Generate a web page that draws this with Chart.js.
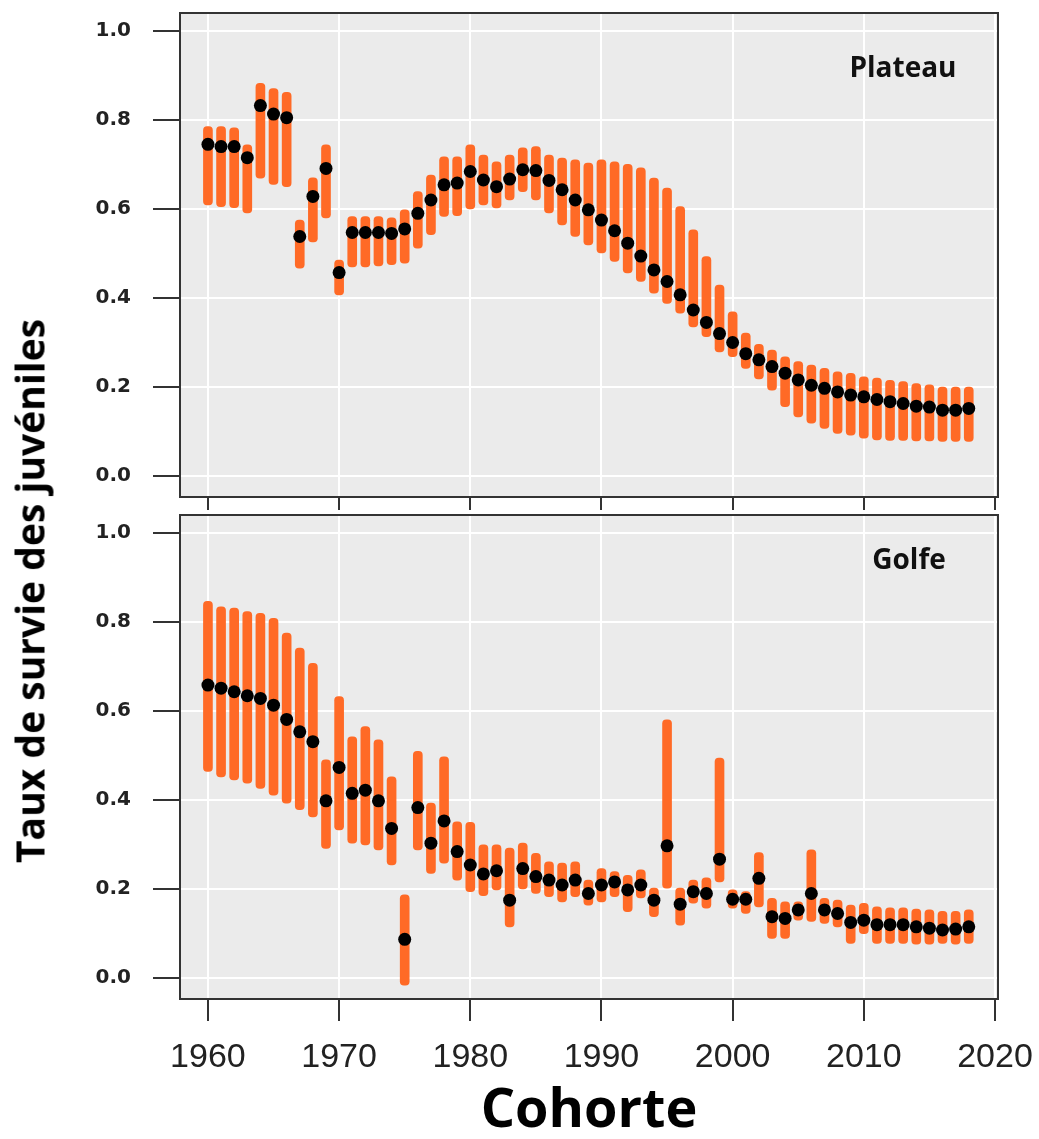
<!DOCTYPE html>
<html>
<head>
<meta charset="utf-8">
<title>Taux de survie des juvéniles</title>
<script src="https://cdn.jsdelivr.net/npm/chart.js@4.4.1/dist/chart.umd.min.js"></script>
<style>
  body { margin: 0; background: #fff; }
  #page { position: relative; width: 1039px; height: 1139px; overflow: hidden; }
  .box { position: absolute; left: 0; width: 1039px; }
  #topBox { top: 0; height: 520px; }
  #bottomBox { top: 500px; height: 639px; }
  .panelLabel {
    position: absolute;
    font: bold 28px "Open Sans", sans-serif;
    color: #111;
    transform: translate(-50%, -50%);
    white-space: nowrap;
  }
  #yLabel {
    position: absolute;
    left: 29px;
    top: 591px;
    font: bold 39px "Open Sans", sans-serif;
    color: #000;
    transform: translate(-50%, -50%) rotate(-90deg);
    white-space: nowrap;
  }
</style>
</head>
<body>
<div id="page">
  <div class="box" id="topBox"><canvas id="plateauChart"></canvas></div>
  <div class="box" id="bottomBox"><canvas id="golfeChart"></canvas></div>
  <div class="panelLabel" style="left:903px; top:66px;">Plateau</div>
  <div class="panelLabel" style="left:909px; top:558px;">Golfe</div>
  <div id="yLabel">Taux de survie des juvéniles</div>
</div>
<script>
// Cohortes
const years = [
  1960, 1961, 1962, 1963, 1964, 1965, 1966, 1967, 1968, 1969,
  1970, 1971, 1972, 1973, 1974, 1975, 1976, 1977, 1978, 1979,
  1980, 1981, 1982, 1983, 1984, 1985, 1986, 1987, 1988, 1989,
  1990, 1991, 1992, 1993, 1994, 1995, 1996, 1997, 1998, 1999,
  2000, 2001, 2002, 2003, 2004, 2005, 2006, 2007, 2008, 2009,
  2010, 2011, 2012, 2013, 2014, 2015, 2016, 2017, 2018
];

// Plateau
const plateauMean = [
  0.745, 0.740, 0.740, 0.715, 0.832, 0.813, 0.805, 0.538, 0.628, 0.691,
  0.457, 0.547, 0.547, 0.547, 0.545, 0.555, 0.590, 0.620, 0.654, 0.658,
  0.684, 0.665, 0.650, 0.667, 0.688, 0.686, 0.664, 0.643, 0.620, 0.598,
  0.575, 0.551, 0.523, 0.494, 0.463, 0.437, 0.407, 0.373, 0.345, 0.320,
  0.300, 0.275, 0.261, 0.246, 0.231, 0.216, 0.204, 0.197, 0.189, 0.182,
  0.178, 0.172, 0.167, 0.163, 0.157, 0.155, 0.148, 0.148, 0.152
];
const plateauLow = [
  0.609, 0.605, 0.603, 0.591, 0.669, 0.655, 0.650, 0.467, 0.526, 0.580,
  0.407, 0.470, 0.470, 0.472, 0.475, 0.478, 0.512, 0.542, 0.583, 0.585,
  0.600, 0.609, 0.602, 0.620, 0.639, 0.620, 0.591, 0.564, 0.538, 0.519,
  0.501, 0.482, 0.456, 0.437, 0.411, 0.388, 0.366, 0.335, 0.313, 0.279,
  0.268, 0.242, 0.218, 0.193, 0.156, 0.133, 0.119, 0.107, 0.096, 0.092,
  0.085, 0.081, 0.080, 0.080, 0.079, 0.079, 0.078, 0.078, 0.078
];
const plateauHigh = [
  0.785, 0.785, 0.782, 0.744, 0.882, 0.870, 0.862, 0.575, 0.670, 0.744,
  0.485, 0.583, 0.583, 0.583, 0.580, 0.598, 0.639, 0.676, 0.717, 0.717,
  0.744, 0.721, 0.706, 0.721, 0.737, 0.740, 0.721, 0.714, 0.710, 0.703,
  0.710, 0.706, 0.700, 0.692, 0.669, 0.647, 0.605, 0.553, 0.493, 0.429,
  0.369, 0.321, 0.296, 0.283, 0.268, 0.257, 0.249, 0.242, 0.234, 0.231,
  0.223, 0.220, 0.215, 0.212, 0.208, 0.205, 0.200, 0.200, 0.200
];

// Golfe
const golfeMean = [
  0.658, 0.651, 0.643, 0.634, 0.628, 0.613, 0.581, 0.553, 0.531, 0.398,
  0.473, 0.415, 0.422, 0.398, 0.336, 0.087, 0.383, 0.303, 0.353, 0.284,
  0.254, 0.234, 0.241, 0.175, 0.246, 0.228, 0.220, 0.209, 0.220, 0.190,
  0.209, 0.216, 0.198, 0.209, 0.175, 0.297, 0.166, 0.194, 0.190, 0.267,
  0.177, 0.177, 0.224, 0.138, 0.134, 0.153, 0.190, 0.153, 0.145, 0.125,
  0.130, 0.120, 0.120, 0.120, 0.115, 0.112, 0.108, 0.110, 0.115
];
const golfeLow = [
  0.464, 0.452, 0.445, 0.438, 0.426, 0.411, 0.393, 0.378, 0.362, 0.291,
  0.333, 0.303, 0.299, 0.288, 0.254, -0.016, 0.288, 0.235, 0.258, 0.220,
  0.194, 0.185, 0.198, 0.115, 0.200, 0.190, 0.183, 0.171, 0.183, 0.164,
  0.171, 0.183, 0.149, 0.180, 0.138, 0.202, 0.119, 0.168, 0.157, 0.216,
  0.157, 0.145, 0.160, 0.089, 0.089, 0.130, 0.127, 0.123, 0.115, 0.078,
  0.100, 0.078, 0.078, 0.078, 0.076, 0.076, 0.078, 0.076, 0.078
];
const golfeHigh = [
  0.846, 0.834, 0.831, 0.823, 0.819, 0.808, 0.775, 0.741, 0.707, 0.490,
  0.632, 0.542, 0.565, 0.535, 0.452, 0.187, 0.509, 0.393, 0.497, 0.351,
  0.350, 0.299, 0.299, 0.292, 0.303, 0.280, 0.261, 0.258, 0.261, 0.220,
  0.246, 0.239, 0.231, 0.243, 0.202, 0.580, 0.202, 0.220, 0.225, 0.494,
  0.198, 0.194, 0.282, 0.179, 0.171, 0.171, 0.288, 0.179, 0.175, 0.164,
  0.168, 0.160, 0.158, 0.158, 0.155, 0.153, 0.150, 0.150, 0.153
];

const yTickValues = [0, 0.2, 0.4, 0.6, 0.8, 1.0];
const xTickValues = [1960, 1970, 1980, 1990, 2000, 2010, 2020];

const barColor = '#FF6A26';
const frameColor = '#333333';

// grey panel background and the frame around it
const panelFrame = {
  id: 'panelFrame',
  beforeDraw(chart) {
    const { ctx, chartArea: a } = chart;
    ctx.save();
    ctx.fillStyle = '#EBEBEB';
    ctx.fillRect(a.left, a.top, a.right - a.left, a.bottom - a.top);
    ctx.restore();
  },
  afterDraw(chart) {
    const { ctx, chartArea: a } = chart;
    ctx.save();
    ctx.strokeStyle = frameColor;
    ctx.lineWidth = 2;
    ctx.strokeRect(a.left, a.top, a.right - a.left, a.bottom - a.top);
    ctx.restore();
  }
};

const makePanel = (canvasId, mean, low, high, isBottom) => {
  const ctx = document.getElementById(canvasId).getContext('2d');

  return new Chart(ctx, {
    type: 'bar',
    data: {
      datasets: [
        {
          type: 'scatter',
          data: years.map((yr, i) => ({ x: yr, y: mean[i] })),
          pointRadius: 6.5,
          pointHoverRadius: 6.5,
          backgroundColor: '#000',
          borderColor: '#000',
          borderWidth: 0,
          order: 0
        },
        {
          type: 'bar',
          data: years.map((yr, i) => ({ x: yr, y: [low[i], high[i]] })),
          backgroundColor: barColor,
          barThickness: 9,
          borderRadius: 4,
          borderSkipped: false,
          grouped: false,
          order: 1
        }
      ]
    },
    options: {
      responsive: true,
      maintainAspectRatio: false,
      animation: false,
      layout: { padding: { left: 0, right: 41, top: isBottom ? 15 : 13, bottom: 0 } },
      plugins: {
        legend: { display: false },
        tooltip: { enabled: false }
      },
      scales: {
        x: {
          type: 'linear',
          min: 1957.87,
          max: 2020.23,
          offset: false,
          afterBuildTicks: s => { s.ticks = xTickValues.map(v => ({ value: v })); },
          afterFit: s => {
            s.height = isBottom ? 140 : 23;
            s.paddingLeft = 0;
            s.paddingRight = 0;
          },
          grid: { offset: false, color: '#fff', lineWidth: 2, tickLength: isBottom ? 22 : 13, tickColor: frameColor, tickWidth: 2 },
          border: { display: false },
          ticks: {
            display: isBottom,
            padding: 16,
            maxRotation: 0,
            autoSkip: false,
            color: '#222',
            font: { family: 'Liberation Sans', size: 34 },
            callback: v => String(v)
          },
          title: {
            display: isBottom,
            text: 'Cohorte',
            color: '#000',
            font: { family: 'Open Sans', weight: 'bold', size: 54, lineHeight: 1 },
            padding: { top: 0, bottom: 0 }
          }
        },
        y: {
          min: -0.047,
          max: 1.04,
          afterBuildTicks: s => { s.ticks = yTickValues.map(v => ({ value: v })); },
          afterFit: s => {
            s.width = 180;
            s.paddingTop = 0;
            s.paddingBottom = 0;
          },
          grid: { color: '#fff', lineWidth: 2, tickLength: 27, tickColor: frameColor, tickWidth: 2 },
          border: { display: false },
          ticks: {
            padding: 22,
            color: '#222',
            font: { family: 'DejaVu Sans', weight: 'bold', size: 20 },
            callback: v => v.toFixed(1)
          }
        }
      }
    },
    plugins: [panelFrame]
  });
};

makePanel('plateauChart', plateauMean, plateauLow, plateauHigh, false);
makePanel('golfeChart', golfeMean, golfeLow, golfeHigh, true);
</script>
</body>
</html>
